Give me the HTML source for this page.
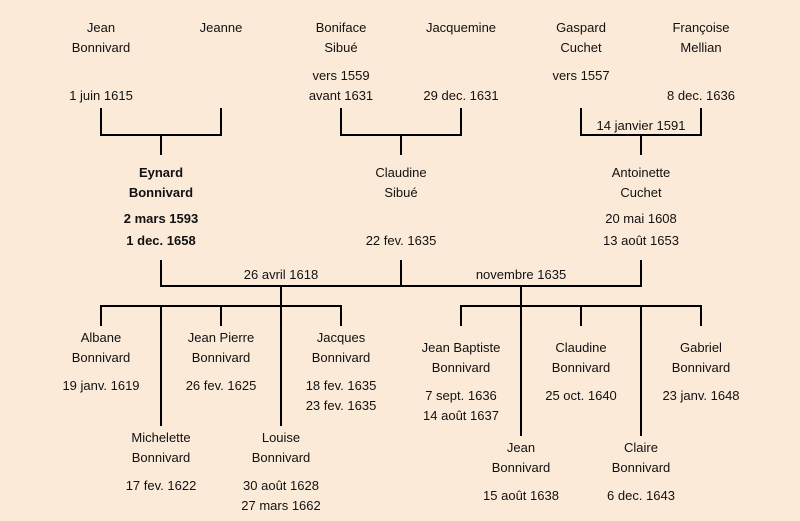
<!DOCTYPE html>
<html><head><meta charset="utf-8"><style>
html,body{margin:0;padding:0;background:#fbead8;}
svg{display:block;}
text{font-family:"Liberation Sans","DejaVu Sans",sans-serif;font-size:13px;fill:#111;text-anchor:middle;}
.b{font-weight:bold;}
</style></head><body>
<svg width="800" height="521" viewBox="0 0 800 521" xmlns="http://www.w3.org/2000/svg">
<rect width="800" height="521" fill="#fbead8"/>
<g stroke="#000" stroke-width="2" fill="none">
<path d="M101 108V135H221V108M161 135V155"/>
<path d="M341 108V135H461V108M401 135V155"/>
<path d="M581 108V135H701V108M641 135V155"/>
<path d="M161 260V286H641V260M401 260V286"/>
<path d="M281 286V306M521 286V306"/>
<path d="M101 326V306H341V326M221 306V326M161 306V426M281 306V426"/>
<path d="M461 326V306H701V326M581 306V326M521 306V436M641 306V436"/>
</g>
<g>
<text x="101" y="32">Jean</text><text x="101" y="52">Bonnivard</text><text x="101" y="100">1 juin 1615</text>
<text x="221" y="32">Jeanne</text>
<text x="341" y="32">Boniface</text><text x="341" y="52">Sibué</text><text x="341" y="80">vers 1559</text><text x="341" y="100">avant 1631</text>
<text x="461" y="32">Jacquemine</text><text x="461" y="100">29 dec. 1631</text>
<text x="581" y="32">Gaspard</text><text x="581" y="52">Cuchet</text><text x="581" y="80">vers 1557</text>
<text x="701" y="32">Françoise</text><text x="701" y="52">Mellian</text><text x="701" y="100">8 dec. 1636</text>
<text x="641" y="130">14 janvier 1591</text>

<text class="b" x="161" y="177">Eynard</text><text class="b" x="161" y="197">Bonnivard</text><text class="b" x="161" y="223">2 mars 1593</text><text class="b" x="161" y="245">1 dec. 1658</text>
<text x="401" y="177">Claudine</text><text x="401" y="197">Sibué</text><text x="401" y="245">22 fev. 1635</text>
<text x="641" y="177">Antoinette</text><text x="641" y="197">Cuchet</text><text x="641" y="223">20 mai 1608</text><text x="641" y="245">13 août 1653</text>

<text x="281" y="279">26 avril 1618</text>
<text x="521" y="279">novembre 1635</text>

<text x="101" y="342">Albane</text><text x="101" y="362">Bonnivard</text><text x="101" y="390">19 janv. 1619</text>
<text x="221" y="342">Jean Pierre</text><text x="221" y="362">Bonnivard</text><text x="221" y="390">26 fev. 1625</text>
<text x="341" y="342">Jacques</text><text x="341" y="362">Bonnivard</text><text x="341" y="390">18 fev. 1635</text><text x="341" y="410">23 fev. 1635</text>
<text x="161" y="442">Michelette</text><text x="161" y="462">Bonnivard</text><text x="161" y="490">17 fev. 1622</text>
<text x="281" y="442">Louise</text><text x="281" y="462">Bonnivard</text><text x="281" y="490">30 août 1628</text><text x="281" y="510">27 mars 1662</text>

<text x="461" y="352">Jean Baptiste</text><text x="461" y="372">Bonnivard</text><text x="461" y="400">7 sept. 1636</text><text x="461" y="420">14 août 1637</text>
<text x="581" y="352">Claudine</text><text x="581" y="372">Bonnivard</text><text x="581" y="400">25 oct. 1640</text>
<text x="701" y="352">Gabriel</text><text x="701" y="372">Bonnivard</text><text x="701" y="400">23 janv. 1648</text>
<text x="521" y="452">Jean</text><text x="521" y="472">Bonnivard</text><text x="521" y="500">15 août 1638</text>
<text x="641" y="452">Claire</text><text x="641" y="472">Bonnivard</text><text x="641" y="500">6 dec. 1643</text>
</g>
</svg>
</body></html>
